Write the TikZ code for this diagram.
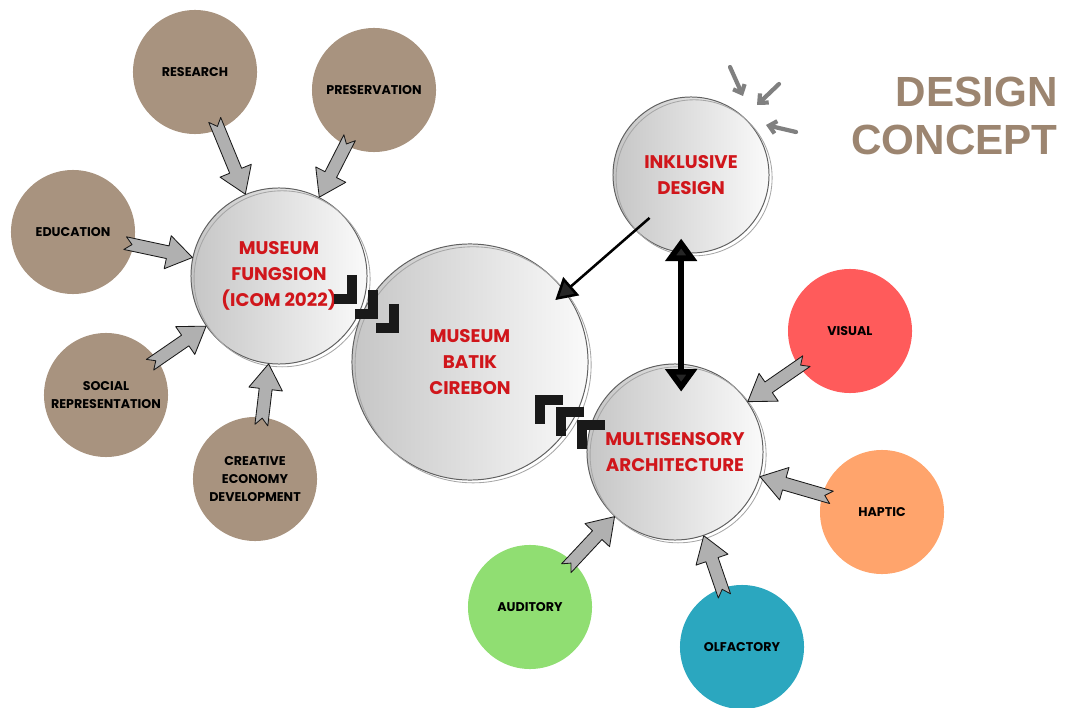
\documentclass[tikz,border=0pt]{standalone}
\usepackage{fontspec}
\setmainfont{Poppins}
\newfontfamily\titlefont{Liberation Sans}
\usetikzlibrary{calc,arrows.meta,positioning}
\definecolor{mocha}{HTML}{A8937F}
\definecolor{titlebrown}{HTML}{9C8570}
\definecolor{labelred}{HTML}{D0161B}
\definecolor{visualred}{HTML}{FF5B5B}
\definecolor{hapticorange}{HTML}{FFA46C}
\definecolor{auditorygreen}{HTML}{90DE72}
\definecolor{olfactoryteal}{HTML}{2BA7BF}

\tikzset{
  topic/.style={circle, minimum size=3.1cm, inner sep=0pt, align=center,
    font=\fontsize{9}{13}\selectfont\bfseries, text=black},
  hub/.style={circle, inner sep=0pt, align=center,
    font=\fontsize{13}{18.4}\selectfont\bfseries, text=labelred,
    draw=gray!75!black, line width=0.7pt, left color=gray!45, right color=gray!4,
    postaction={draw=gray!70, line width=0.6pt,
      transform canvas={shift={(2.2pt,-2pt)}}}},
  sketcharrow/.style={fill=gray!62, draw=gray!20!black, line width=0.6pt,
    line join=round},
  stairmark/.style={draw=black!90, line width=7pt, line join=miter},
  oneway/.style={draw=black, line width=1.8pt,
    -{Triangle[length=15pt,width=17pt,fill=black!85]}},
  twoway/.style={draw=black, line width=4pt,
    {Triangle[length=16pt,width=22pt,fill=black!85]}-{Triangle[length=16pt,width=22pt,fill=black!85]}},
  hint/.style={draw=black!50, line width=3pt, line cap=round,
    -{Straight Barb[length=5pt,width=9pt]}}
}

% grey block arrow from node #1 to node #2
\newcommand\grayarrow[2]{%
  \path (#1) -- (#2) coordinate[pos=-0.15] (ga-s) coordinate[pos=1] (ga-e);
  \coordinate (ga-m) at ($(ga-e)!18pt!(ga-s)$);
  \filldraw[sketcharrow] ($(ga-s)!4.6pt!90:(ga-e)$)
    -- ($(ga-m)!4.6pt!-90:(ga-s)$) -- ($(ga-m)!12pt!-90:(ga-s)$)
    -- (ga-e)
    -- ($(ga-m)!12pt!90:(ga-s)$) -- ($(ga-m)!4.6pt!90:(ga-s)$)
    -- ($(ga-s)!4.6pt!-90:(ga-e)$) -- ($(ga-s)!5pt!(ga-e)$) -- cycle;
}

\begin{document}
\begin{tikzpicture}[x=0.025cm, y=-0.025cm]
\useasboundingbox (0,0) rectangle (1065,708);

% title
\node[anchor=east, align=right, text=titlebrown, inner sep=0pt,
  font=\titlefont\fontsize{30}{34}\selectfont\bfseries] (title) at (1058,116)
  {DESIGN\\CONCEPT};

% museum functions
\node[topic, fill=mocha] (research) at (195,72) {RESEARCH};
\node[topic, fill=mocha] (preservation) at (374,90) {PRESERVATION};
\node[topic, fill=mocha] (education) at (73,232) {EDUCATION};
\node[topic, fill=mocha] (social) at (106,395) {SOCIAL\\REPRESENTATION};
\node[topic, fill=mocha] (creative) at (255,479) {CREATIVE\\ECONOMY\\DEVELOPMENT};

% senses
\node[topic, fill=visualred] (visual) at (850,331) {VISUAL};
\node[topic, fill=hapticorange] (haptic) at (882,512) {HAPTIC};
\node[topic, fill=auditorygreen] (auditory) at (530,607) {AUDITORY};
\node[topic, fill=olfactoryteal] (olfactory) at (742,647) {OLFACTORY};

% hubs
\node[hub, minimum size=4.4cm] (fungsion) at (279,276) {MUSEUM\\FUNGSION\\(ICOM 2022)};
\node[hub, minimum size=5.9cm] (batik) at (470,362) {MUSEUM\\BATIK\\CIREBON};
\node[hub, minimum size=3.9cm] (inklusive) at (691,175) {INKLUSIVE\\DESIGN};
\node[hub, minimum size=4.4cm] (multi) at (675,452) {MULTISENSORY\\ARCHITECTURE};

% arrows into the hubs
\foreach \src in {research,preservation,education,social,creative}
  \grayarrow{\src}{fungsion};
\foreach \src in {visual,haptic,auditory,olfactory}
  \grayarrow{\src}{multi};

% links between hubs
\draw[oneway] ($(inklusive.center)!0.76!(inklusive.226)$) -- ($(batik.center)!0.89!(batik.36)$);
\coordinate (ik-low) at ([xshift=-7pt,yshift=10.6pt]inklusive.south);
\draw[twoway, shorten >=-20pt] (ik-low) -- (ik-low |- multi.north);

% stair marks
\foreach \dx/\dy in {0/0,21/15,42/29}
  \draw[stairmark] (352+\dx,275+\dy) -- ++(0,24) -- ++(-18,0);
\foreach \dx/\dy in {0/0,21/12,42/25}
  \draw[stairmark] (563+\dx,400+\dy) -- ++(-23,0) -- ++(0,24);

% small arrows on inklusive design
\coordinate (h1) at (730,67);
\coordinate (h2) at (779,84);
\coordinate (h3) at (796,132);
\draw[hint] (h1) -- (743,96);
\draw[hint] (h2) -- (757,105);
\draw[hint] (h3) -- (766,125);
\end{tikzpicture}
\end{document}
